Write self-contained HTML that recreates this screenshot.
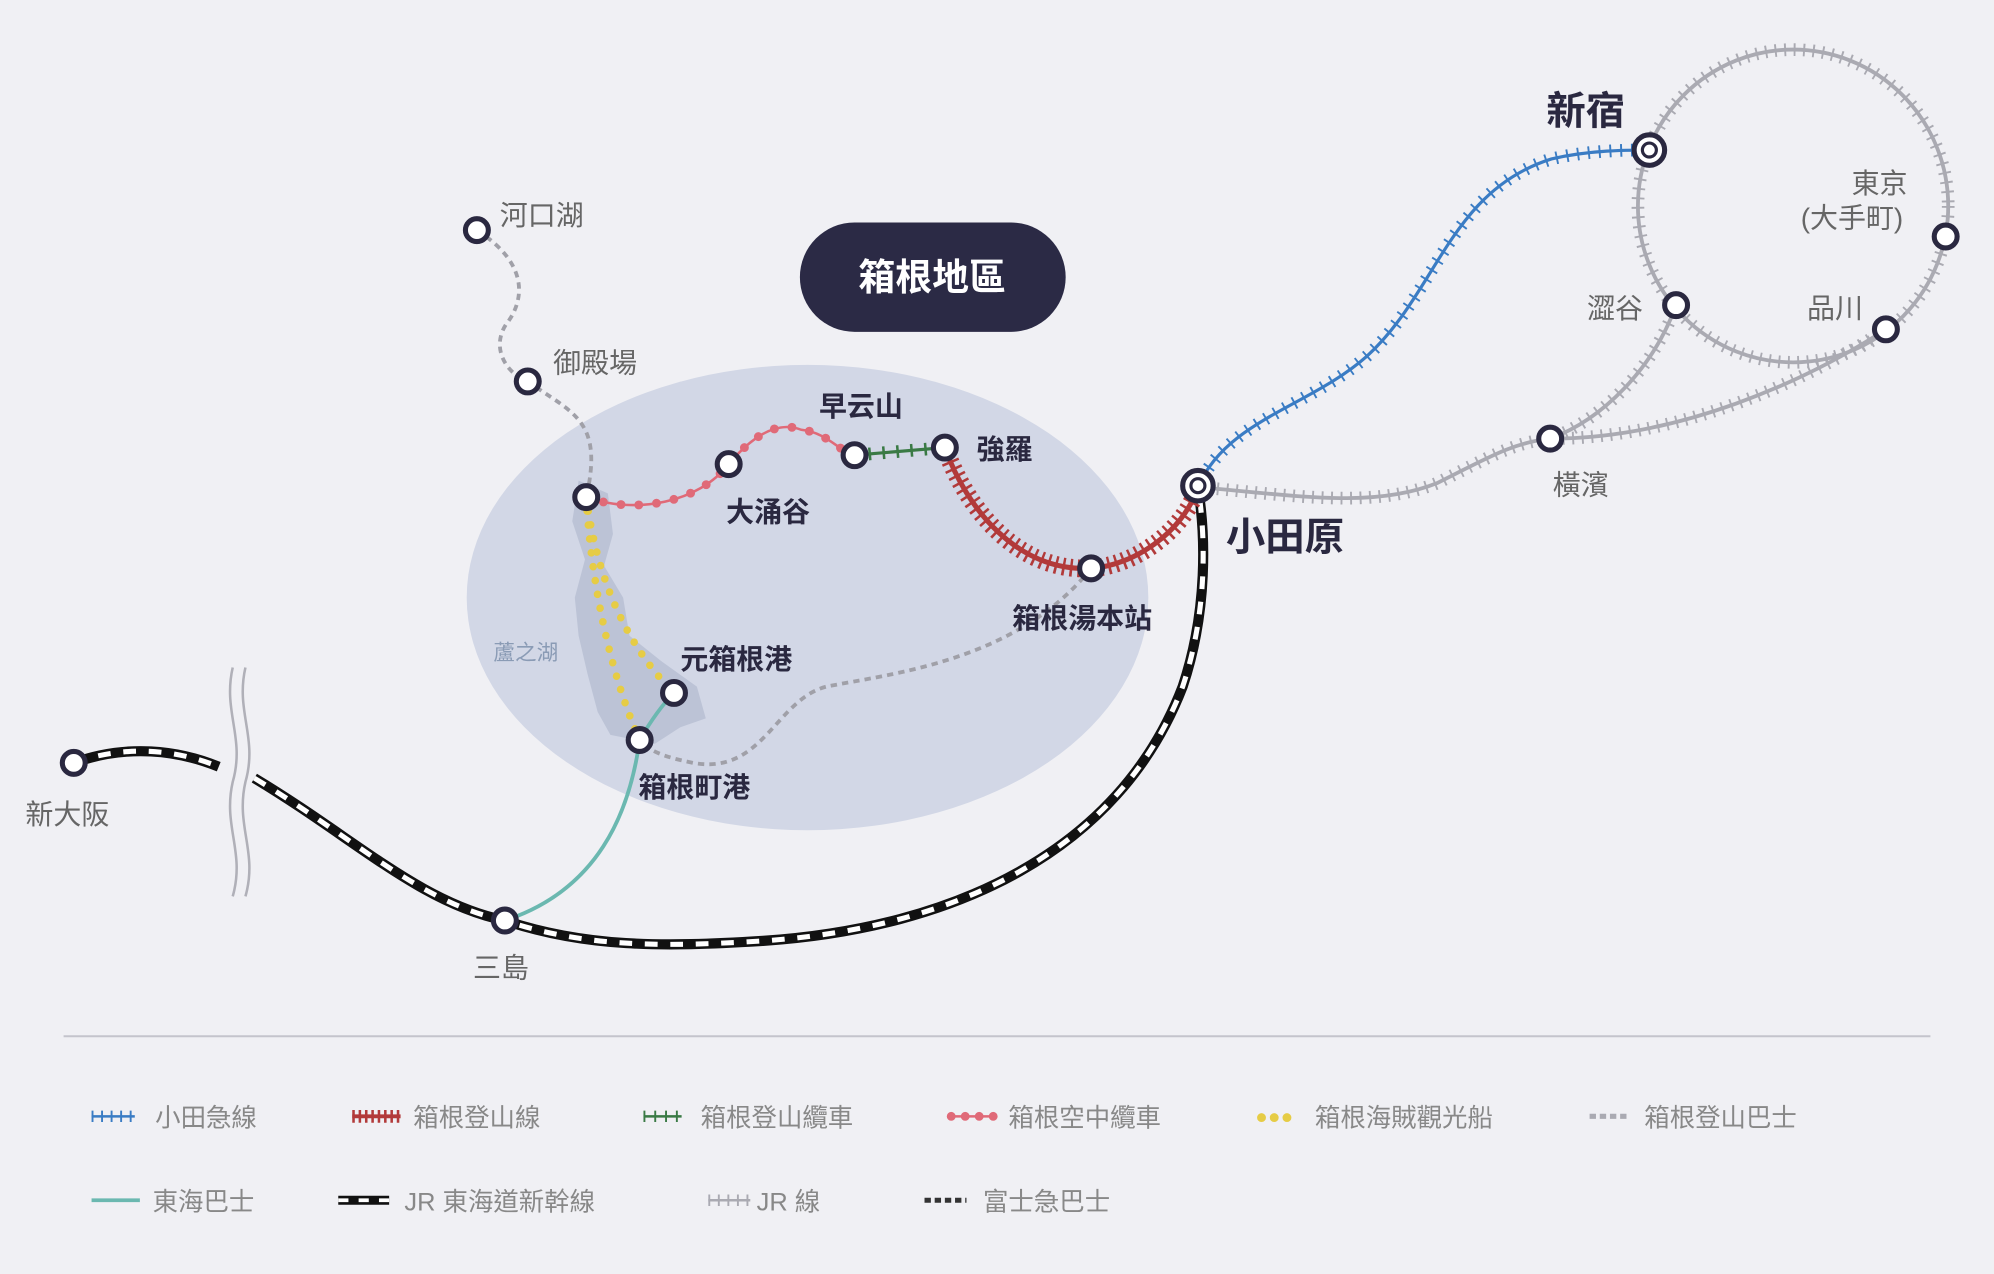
<!DOCTYPE html>
<html><head><meta charset="utf-8"><style>
html,body{margin:0;padding:0;background:#f0f0f4;}
svg{display:block;}
text{font-family:"Liberation Sans","Noto Sans CJK TC",sans-serif;}
</style></head><body>
<svg width="1994" height="1274" viewBox="0 0 1568 1002" preserveAspectRatio="none" xmlns="http://www.w3.org/2000/svg">
<rect width="1568" height="1002" fill="#f0f0f4"/>
<ellipse cx="635" cy="470" rx="268" ry="183" fill="#d2d7e6"/>
<path d="M455,378 L478,388 L482,420 L475,445 L490,470 L495,500 L520,520 L548,540 L555,565 L535,572 L515,585 L480,578 L470,560 L462,530 L455,500 L452,470 L460,440 L450,410 Z" fill="#bcc3d6"/>
<text x="388" y="519" font-size="17" fill="#8a9bb5">蘆之湖</text>

<!-- break marks -->
<g fill="none" stroke="#b0b0b8" stroke-width="2">
<path d="M183,525 C175,560 193,580 183,615 C175,650 193,670 183,705"/>
<path d="M193,525 C185,560 203,580 193,615 C185,650 203,670 193,705"/>
</g>

<!-- JR gray lines -->
<g fill="none" stroke="#aaaab2" stroke-width="3">
<ellipse cx="1410" cy="162" rx="122" ry="123"/>
<path d="M1318,240 C1300,290 1260,330 1219,345"/>
<path d="M1483,259 C1420,300 1320,345 1219,345"/>
<path d="M942,383 C1020,390 1080,400 1130,380 C1170,360 1190,348 1219,345"/>
</g>
<g fill="none" stroke="#aaaab2" stroke-width="10" stroke-dasharray="1.5 6">
<ellipse cx="1410" cy="162" rx="122" ry="123"/>
<path d="M1318,240 C1300,290 1260,330 1219,345"/>
<path d="M1483,259 C1420,300 1320,345 1219,345"/>
<path d="M942,383 C1020,390 1080,400 1130,380 C1170,360 1190,348 1219,345"/>
</g>

<!-- bus dashed gray -->
<g fill="none" stroke="#a0a0a8" stroke-width="3" stroke-dasharray="5 4">
<path d="M375,181 C420,210 410,240 398,255 C385,275 400,295 415,300 C450,325 475,330 461,391"/>
<path d="M858,447 C800,520 700,530 650,540 C610,550 600,610 545,600 C520,595 510,590 503,582"/>
</g>

<!-- Tokai bus teal -->
<path d="M397,724 C470,700 495,640 503,582 C510,570 520,555 530,545" fill="none" stroke="#6bb8b0" stroke-width="3"/>

<!-- Shinkansen -->
<g fill="none">
<path d="M58,600 C100,585 140,590 172,603" stroke="#111" stroke-width="8"/>
<path d="M58,600 C100,585 140,590 172,603" stroke="#fff" stroke-width="4" stroke-dasharray="10 10"/>
<path d="M200,612 C280,660 330,710 397,724 C460,745 520,745 600,740 C750,730 880,670 930,540 C950,480 948,420 942,383" stroke="#111" stroke-width="8"/>
<path d="M200,612 C280,660 330,710 397,724 C460,745 520,745 600,740 C750,730 880,670 930,540 C950,480 948,420 942,383" stroke="#fff" stroke-width="4" stroke-dasharray="10 10"/>
</g>

<!-- Odakyu blue -->
<g fill="none" stroke="#3a7cc4">
<path d="M942,383 C965,330 1030,320 1075,280 C1130,230 1140,150 1220,125 C1250,118 1280,118 1297,118" stroke-width="2.5"/>
<path d="M942,383 C965,330 1030,320 1075,280 C1130,230 1140,150 1220,125 C1250,118 1280,118 1297,118" stroke-width="10" stroke-dasharray="1.5 7"/>
</g>

<!-- Hakone Tozan red -->
<g fill="none" stroke="#b23a3a">
<path d="M942,383 C930,420 890,445 858,447 C800,450 760,400 743,352" stroke-width="4"/>
<path d="M942,383 C930,420 890,445 858,447 C800,450 760,400 743,352" stroke-width="14" stroke-dasharray="2 4"/>
</g>

<!-- cable car green -->
<g fill="none" stroke="#3a7a45">
<path d="M672,358 L743,352" stroke-width="2.5"/>
<path d="M672,358 L743,352" stroke-width="10" stroke-dasharray="2 9"/>
</g>

<!-- ropeway pink -->
<g fill="none" stroke="#e06a78">
<path d="M461,391 C500,405 550,395 573,365 C590,345 610,330 630,338 C650,340 660,355 672,358" stroke-width="2"/>
<path d="M461,391 C500,405 550,395 573,365 C590,345 610,330 630,338 C650,340 660,355 672,358" stroke-width="7" stroke-linecap="round" stroke-dasharray="0 14"/>
</g>

<!-- pirate ship yellow -->
<g fill="none" stroke="#e6cc45" stroke-width="6" stroke-linecap="round" stroke-dasharray="0 11">
<path d="M461,391 C465,460 480,530 503,582"/>
<path d="M461,391 C470,460 495,510 530,545"/>
</g>

<!-- stations -->
<g fill="#fff" stroke="#2a2840" stroke-width="4">
<circle cx="375" cy="181" r="9"/>
<circle cx="415" cy="300" r="9"/>
<circle cx="461" cy="391" r="9"/>
<circle cx="573" cy="365" r="9"/>
<circle cx="672" cy="358" r="9"/>
<circle cx="743" cy="352" r="9"/>
<circle cx="858" cy="447" r="9"/>
<circle cx="530" cy="545" r="9"/>
<circle cx="503" cy="582" r="9"/>
<circle cx="397" cy="724" r="9"/>
<circle cx="58" cy="600" r="9"/>
<circle cx="1318" cy="240" r="9"/>
<circle cx="1483" cy="259" r="9"/>
<circle cx="1530" cy="186" r="9"/>
<circle cx="1219" cy="345" r="9"/>
<circle cx="1297" cy="118" r="12"/>
<circle cx="942" cy="382" r="12"/>
</g>
<g fill="#fff" stroke="#2a2840" stroke-width="2.5">
<circle cx="1297" cy="118" r="5.5"/>
<circle cx="942" cy="382" r="5.5"/>
</g>

<!-- title -->
<rect x="629" y="175" width="209" height="86" rx="43" fill="#2b2a45"/>
<text x="733" y="228" font-size="29" font-weight="bold" fill="#fff" text-anchor="middle">箱根地區</text>

<!-- labels -->
<g font-size="22" fill="#666">
<text x="393" y="177">河口湖</text>
<text x="435" y="293">御殿場</text>
<text x="20" y="648">新大阪</text>
<text x="372" y="769">三島</text>
<text x="1248" y="250">澀谷</text>
<text x="1421" y="250">品川</text>
<text x="1221" y="389">橫濱</text>
<text x="1456" y="152">東京</text>
<text x="1416" y="179">(大手町)</text>
</g>
<g font-size="22" font-weight="bold" fill="#2a2840">
<text x="644" y="327">早云山</text>
<text x="768" y="361">強羅</text>
<text x="571" y="410">大涌谷</text>
<text x="796" y="494">箱根湯本站</text>
<text x="535" y="526">元箱根港</text>
<text x="502" y="627">箱根町港</text>
</g>
<text x="1216" y="98" font-size="31" font-weight="bold" fill="#2a2840">新宿</text>
<text x="964" y="433" font-size="31" font-weight="bold" fill="#2a2840">小田原</text>

<!-- legend -->
<line x1="50" y1="815" x2="1518" y2="815" stroke="#c4c4cc" stroke-width="1.5"/>
<g font-size="20" fill="#888">
<text x="122" y="886">小田急線</text>
<text x="325" y="886">箱根登山線</text>
<text x="551" y="886">箱根登山纜車</text>
<text x="793" y="886">箱根空中纜車</text>
<text x="1034" y="886">箱根海賊觀光船</text>
<text x="1293" y="886">箱根登山巴士</text>
<text x="120" y="952">東海巴士</text>
<text x="318" y="952">JR 東海道新幹線</text>
<text x="595" y="952">JR 線</text>
<text x="773" y="952">富士急巴士</text>
</g>
<g fill="none">
<line x1="72" y1="878" x2="106" y2="878" stroke="#3a7cc4" stroke-width="2"/>
<line x1="72" y1="878" x2="106" y2="878" stroke="#3a7cc4" stroke-width="9" stroke-dasharray="1.5 6"/>
<line x1="277" y1="878" x2="315" y2="878" stroke="#b23a3a" stroke-width="3"/>
<line x1="277" y1="878" x2="315" y2="878" stroke="#b23a3a" stroke-width="10" stroke-dasharray="2 3"/>
<line x1="506" y1="878" x2="536" y2="878" stroke="#3a7a45" stroke-width="2"/>
<line x1="506" y1="878" x2="536" y2="878" stroke="#3a7a45" stroke-width="9" stroke-dasharray="1.5 7"/>
<line x1="745" y1="878" x2="782" y2="878" stroke="#e06a78" stroke-width="2"/>
<line x1="748" y1="878" x2="782" y2="878" stroke="#e06a78" stroke-width="7" stroke-linecap="round" stroke-dasharray="0 11"/>
<line x1="992" y1="879" x2="1022" y2="879" stroke="#e6cc45" stroke-width="7" stroke-linecap="round" stroke-dasharray="0 10"/>
<line x1="1250" y1="878" x2="1282" y2="878" stroke="#aaaab2" stroke-width="4" stroke-dasharray="5 3"/>
<line x1="72" y1="944" x2="110" y2="944" stroke="#6bb8b0" stroke-width="3"/>
<line x1="266" y1="944" x2="306" y2="944" stroke="#111" stroke-width="7"/>
<line x1="266" y1="944" x2="306" y2="944" stroke="#fff" stroke-width="3" stroke-dasharray="8 8"/>
<line x1="557" y1="944" x2="590" y2="944" stroke="#aaaab2" stroke-width="2"/>
<line x1="557" y1="944" x2="590" y2="944" stroke="#aaaab2" stroke-width="9" stroke-dasharray="1.5 6"/>
<line x1="727" y1="944" x2="760" y2="944" stroke="#333" stroke-width="4" stroke-dasharray="5 3"/>
</g>
</svg>
</body></html>
